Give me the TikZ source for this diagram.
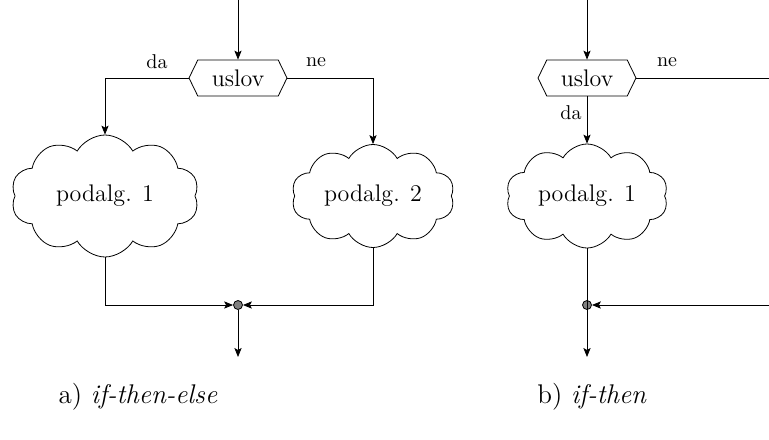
\documentclass[tikz,border=0pt]{standalone}
\usetikzlibrary{shapes.symbols,arrows.meta}
\begin{document}
\begin{tikzpicture}[x=0.5pt,y=-0.5pt,
  arr/.style={-{Stealth[length=4.5pt,width=3.6pt,inset=1pt]}},
  cond/.style={draw,signal,signal to=west and east,signal pointer angle=128,
    minimum width=49pt,minimum height=18pt,inner sep=0pt,font=\large},
  block/.style={draw,cloud,cloud puffs=10,cloud puff arc=120,cloud ignores aspect,
    inner sep=0pt,font=\large},
  junc/.style={draw,circle,fill=gray,minimum size=4.5pt,inner sep=0pt},
  lab/.style={font=\normalsize},
  capt/.style={font=\fontsize{13.5}{16}\selectfont}]
\useasboundingbox (0,0) rectangle (769,439);

% ---- a) if-then-else ----
\coordinate (topA) at (238,0);
\node[cond] (uA) at (238,78) {uslov};
\node[block,minimum width=94pt,minimum height=61pt] (c1) at (105,196) {podalg. 1};
\node[block,minimum width=81.5pt,minimum height=51.5pt] (c2) at (373,196) {podalg. 2};
\node[junc] (jA) at (238,305) {};
\coordinate (endA) at (238,357);
\node[lab] (daA) at (157,62) {da};
\node[lab] (neA) at (316,62) {ne};

\draw[arr] (topA) -- (uA.north);
\draw[arr] (uA.west) -| (c1.north);
\draw[arr] (uA.east) -| (c2.north);
\draw[arr] (c1.south) |- (jA);
\draw[arr] (c2.south) |- (jA);
\draw[arr] (jA) -- (endA);

\node[capt] (capA) at (138,397) {a) \textit{if-then-else}};

% ---- b) if-then ----
\coordinate (topB) at (587,0);
\node[cond] (uB) at (587,78) {uslov};
\node[block,minimum width=81pt,minimum height=52pt] (c3) at (587,196) {podalg. 1};
\node[junc] (jB) at (587,305) {};
\coordinate (endB) at (587,357);
\coordinate (neEnd) at (769,78);
\coordinate (backStart) at (769,305);
\node[lab] (neB) at (667,62) {ne};
\node[lab] (daB) at (571,113) {da};

\draw[arr] (topB) -- (uB.north);
\draw (uB.east) -- (neEnd);
\draw[arr] (uB.south) -- (c3.north);
\draw (c3.south) -- (jB.center);
\draw[arr] (backStart) -- (jB);
\draw[arr] (jB.center) -- (endB);

\node[capt] (capB) at (592,397) {b) \textit{if-then}};
\end{tikzpicture}
\end{document}
